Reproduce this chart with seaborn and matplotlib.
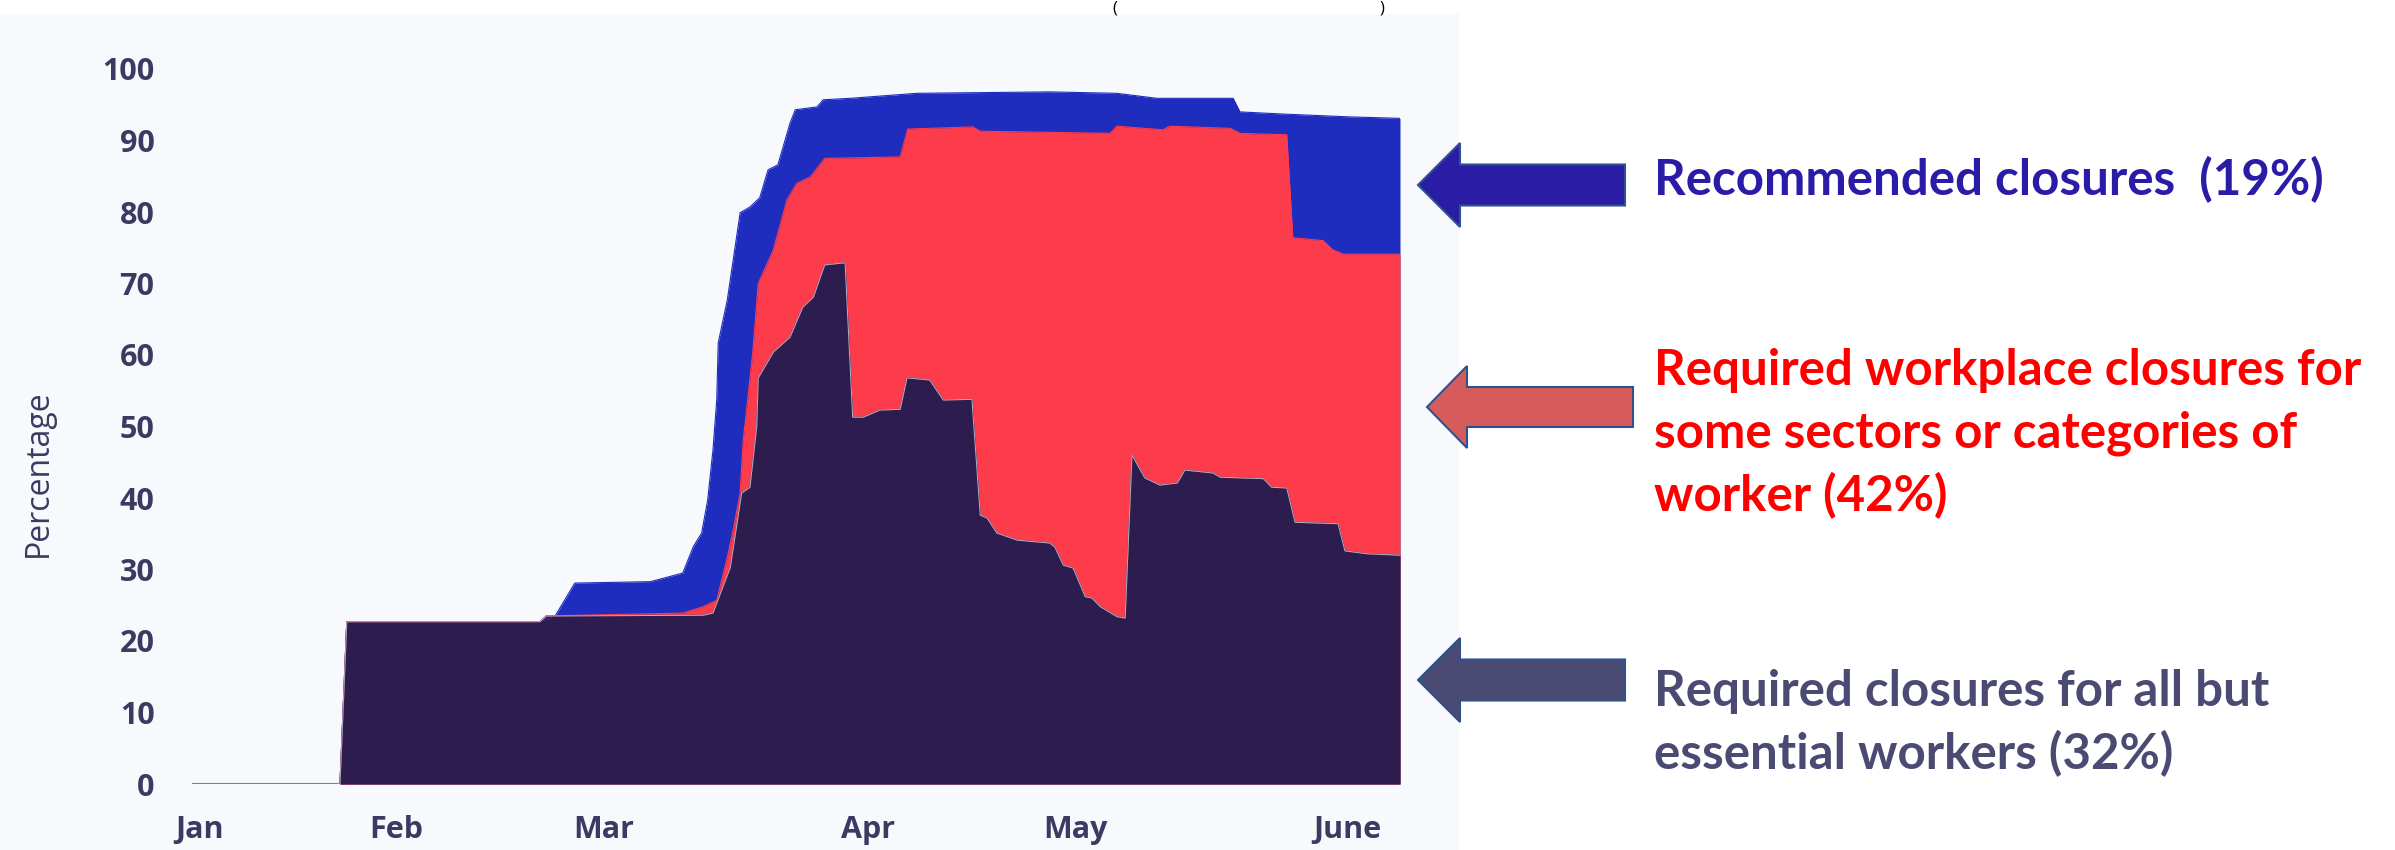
import numpy as np
import pandas as pd
import matplotlib.pyplot as plt
import seaborn as sns
from matplotlib.patches import Polygon, Rectangle

# days since Jan 1 / percentage of world population
essential_days = [0, 19.6, 20.5, 46.1, 46.9, 67.7, 69.0, 71.3, 72.8, 73.9, 74.8, 75.0, 77.0, 79.2, 80.9,
                  82.3, 83.8, 86.5, 87.5, 88.9, 91.1, 93.8, 94.7, 97.7, 99.5, 103.3, 104.4, 105.3, 106.6,
                  109.3, 113.6, 114.3, 115.4, 116.7, 118.3, 119.2, 120.3, 122.5, 123.6, 124.5, 126.2,
                  128.2, 130.5, 131.5, 135.2, 136.2, 141.9, 143.0, 145.0, 146.1, 151.8, 152.7, 155.6, 160.0]
essential_vals = [0, 0, 22.7, 22.7, 23.5, 23.6, 23.9, 30.3, 40.7, 41.5, 50, 56.8, 60.4, 62.5, 66.7,
                  68.1, 72.6, 72.9, 51.3, 51.3, 52.3, 52.4, 56.8, 56.5, 53.7, 53.8, 37.6, 37.2, 35.1,
                  34.1, 33.7, 33.1, 30.6, 30.2, 26.2, 26.0, 24.8, 23.4, 23.2, 46.0, 42.8,
                  41.8, 42.1, 43.9, 43.5, 42.9, 42.7, 41.5, 41.4, 36.6, 36.4, 32.6, 32.2, 32.0]

sectors_days = [0, 19.6, 20.5, 46.1, 46.9, 65.0, 67.7, 69.5, 70.9, 71.6, 72.6, 73.0, 73.6, 74.3, 75.0,
                77.0, 78.8, 80.1, 81.9, 83.8, 93.8, 94.8, 103.4, 104.4, 121.6, 122.5, 128.6, 129.5,
                137.5, 138.8, 145.0, 145.8, 149.8, 151.1, 152.5, 160.0]
sectors_vals = [0, 0, 22.7, 22.7, 23.5, 23.9, 24.8, 25.7, 31.7, 35.1, 40.7, 48.0, 53.7, 60.7, 70.0,
                74.7, 81.7, 84.0, 84.9, 87.5, 87.7, 91.6, 91.9, 91.3, 91.0, 92.0, 91.5, 92.0,
                91.7, 91.0, 90.8, 76.4, 76.0, 74.7, 74.1, 74.1]

recommended_days = [0, 19.6, 20.5, 46.1, 48.1, 50.7, 60.7, 65.0, 66.4, 67.5, 68.3, 69.0, 69.5, 69.7,
                    70.9, 72.6, 73.9, 75.2, 76.3, 77.6, 79.2, 79.9, 82.8, 83.6, 87.2, 96.0, 113.6,
                    122.5, 127.8, 137.9, 138.8, 144.5, 153.4, 160.0]
recommended_vals = [0, 0, 22.7, 22.7, 23.5, 28.1, 28.3, 29.5, 33.2, 35.1, 39.7, 46.7, 53.7, 61.7,
                    67.7, 79.9, 80.7, 82.0, 85.9, 86.6, 92.4, 94.3, 94.7, 95.7, 95.9, 96.6, 96.8,
                    96.6, 95.9, 95.9, 94.0, 93.7, 93.3, 93.1]

month_labels = ['Jan', 'Feb', 'Mar', 'Apr', 'May', 'June']
month_pos = [1, 27, 54.5, 89.5, 117, 153]
y_ticks = list(range(0, 101, 10))

text_recommended = ['Recommended closures  (19%)']
text_sectors = ['Required workplace closures for', 'some sectors or categories of', 'worker (42%)']
text_essential = ['Required closures for all but', 'essential workers (32%)']

c_blue = '#1f2dbe'
c_red = '#fc3c4b'
c_dark = '#2d1c4e'
c_tick = '#3c3a62'

sns.set_theme(style='white')
plt.rcParams['font.family'] = ['Open Sans', 'DejaVu Sans']

fig = plt.figure(figsize=(23.95, 8.5), dpi=100)
fig.patch.set_facecolor('white')

# overlay in pixel coords for the screenshot background, arrows and notes
ov = fig.add_axes([0, 0, 1, 1], zorder=0)
ov.set_xlim(0, 2395)
ov.set_ylim(850, 0)
ov.axis('off')
ov.add_patch(Rectangle((0, 14), 1459, 836, color='#f8f9fc', lw=0))
# leftover of the cropped title
ov.text(1115, 0, '(', fontsize=12, va='top', ha='center', color='black')
ov.text(1382, 0, ')', fontsize=12, va='top', ha='center', color='black')

ax = fig.add_axes([192 / 2395, 66 / 850, 1208 / 2395, 715 / 850], zorder=1)
ax.set_facecolor('none')

ax.axhline(0, color='#dcdde6', lw=2.5, zorder=0)
layers = [(recommended_days, recommended_vals, c_blue),
          (sectors_days, sectors_vals, c_red),
          (essential_days, essential_vals, c_dark)]
for d, v, c in layers:
    ax.fill_between(d, v, 0, color=c, lw=0)
    sns.lineplot(x=d, y=v, ax=ax, color=c, lw=0.8, sort=False, estimator=None)
sns.lineplot(x=essential_days, y=essential_vals, ax=ax, color='#d9d4e6', lw=0.7,
             sort=False, estimator=None, alpha=0.8)

ax.set_xlim(0, 160)
ax.set_ylim(0, 100)
ax.set_xticks(month_pos)
ax.set_xticklabels(month_labels, fontsize=22, fontweight='bold', color=c_tick)
ax.set_yticks(y_ticks)
ax.set_yticklabels([str(t) for t in y_ticks], fontsize=22, fontweight='bold', color=c_tick)
ax.tick_params(axis='y', length=0, pad=27)
ax.tick_params(axis='x', length=0, pad=22)
ax.set_xlabel('')
ax.set_ylabel('')
sns.despine(ax=ax, left=True, bottom=True)

ov.text(38, 473, 'Percentage', rotation=90, fontsize=23, color=c_tick, va='center', ha='center')


def left_arrow(tip_x, tip_y, base_x, end_x, head_half, shaft_half, color):
    pts = [(tip_x, tip_y), (base_x, tip_y - head_half), (base_x, tip_y - shaft_half),
           (end_x, tip_y - shaft_half), (end_x, tip_y + shaft_half), (base_x, tip_y + shaft_half),
           (base_x, tip_y + head_half)]
    ov.add_patch(Polygon(pts, closed=True, facecolor=color, edgecolor='#2f528f', lw=1.5))


left_arrow(1418, 185, 1460, 1625, 42, 20.5, '#2a1ca5')
left_arrow(1427, 407, 1467, 1633, 41, 20, '#d65c5c')
left_arrow(1418, 680, 1460, 1625, 42, 20.5, '#4a4a72')

note_font = dict(family=['Lato', 'DejaVu Sans'], fontweight='bold', fontsize=35.5, va='center', ha='left')
for i, line in enumerate(text_recommended):
    ov.text(1654, 180 + i * 63, line, color='#2b1ca8', **note_font)
for i, line in enumerate(text_sectors):
    ov.text(1654, 370 + i * 63, line, color='#ff0000', **note_font)
for i, line in enumerate(text_essential):
    ov.text(1654, 691 + i * 63, line, color='#4a4a72', **note_font)

fig.savefig('out.png', dpi=100)
